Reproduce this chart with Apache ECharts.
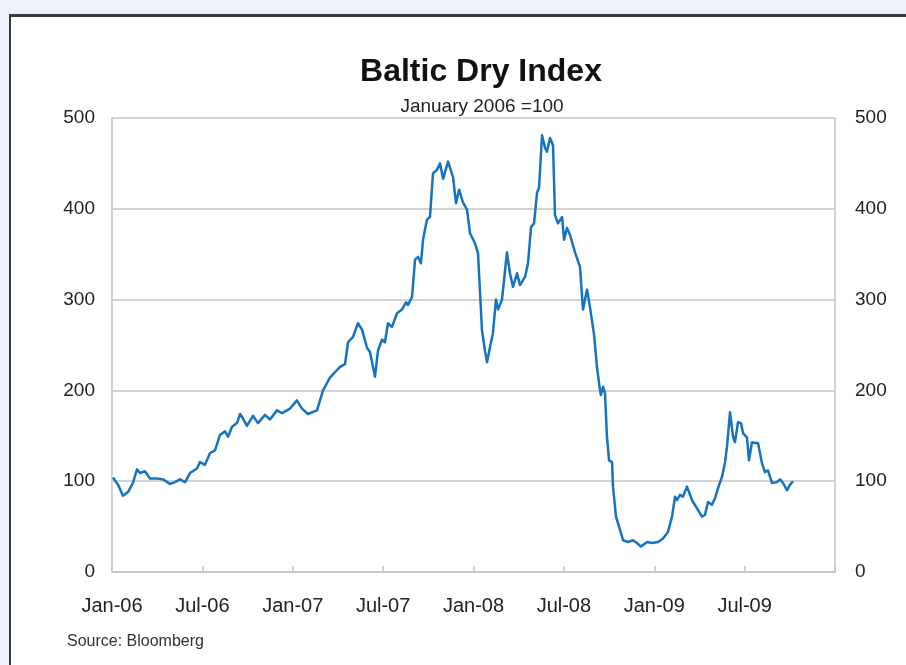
<!DOCTYPE html>
<html>
<head>
<meta charset="utf-8">
<script src="https://cdn.jsdelivr.net/npm/echarts@6/dist/echarts.min.js"></script>
<style>
  html, body { margin: 0; padding: 0; width: 906px; height: 665px; overflow: hidden; background: #edf1f9; }
  #frame { position: absolute; left: 9px; top: 14px; width: 905px; height: 660px; background: #ffffff;
           border-left: 2px solid #3a3a3a; border-top: 3px solid #3a3a3a; }
  #chart { position: absolute; left: 0; top: 0; width: 906px; height: 665px; }
</style>
</head>
<body>
<div id="frame"></div>
<div id="chart"></div>
<script>
// Time position: months since the start of January 2006
const months = [
  0.07, 0.40, 0.73, 1.06, 1.39, 1.66, 1.86, 2.19, 2.52, 2.99, 3.39, 3.85, 4.18, 4.51, 4.85,
  5.18, 5.64, 5.84, 6.17, 6.51, 6.84, 7.17, 7.50, 7.70, 7.97, 8.30, 8.50, 8.70, 8.96, 9.36,
  9.69, 10.16, 10.49, 10.95, 11.29, 11.82, 12.28, 12.61, 13.01, 13.61, 13.81, 14.01, 14.47, 14.80, 15.14,
  15.47, 15.67, 16.00, 16.33, 16.60, 16.93, 17.13, 17.46, 17.66, 17.93, 18.12, 18.32, 18.59, 18.92, 19.25,
  19.52, 19.65, 19.92, 20.12, 20.32, 20.51, 20.65, 20.91, 21.11, 21.31, 21.58, 21.78, 21.98, 22.31, 22.64,
  22.84, 23.04, 23.30, 23.57, 23.77, 24.10, 24.30, 24.56, 24.76, 24.90, 25.10, 25.29, 25.49, 25.63, 25.89,
  26.22, 26.42, 26.62, 26.89, 27.09, 27.42, 27.62, 27.82, 28.02, 28.22, 28.35, 28.55, 28.75, 28.88, 29.08,
  29.28, 29.41, 29.61, 29.88, 30.01, 30.21, 30.41, 30.74, 31.07, 31.27, 31.54, 31.73, 32.00, 32.20, 32.40,
  32.46, 32.60, 32.73, 32.86, 33.00, 33.20, 33.26, 33.46, 33.73, 33.93, 34.26, 34.59, 34.85, 35.12, 35.52,
  35.85, 36.25, 36.58, 36.91, 37.18, 37.38, 37.51, 37.71, 37.91, 38.17, 38.51, 38.84, 39.17, 39.37, 39.57,
  39.83, 40.03, 40.23, 40.50, 40.70, 40.83, 41.03, 41.23, 41.36, 41.56, 41.76, 41.89, 42.16, 42.29, 42.49,
  42.69, 42.89, 43.15, 43.35, 43.55, 43.82, 44.15, 44.35, 44.55, 44.81, 45.01, 45.21
];
// Baltic Dry Index, January 2006 = 100
const bdi = [
  104, 96, 84, 88, 98, 113, 109, 111, 103, 103, 102, 97, 99, 102, 99,
  109, 114, 121, 118, 131, 134, 151, 155, 149, 160, 164, 174, 169, 161, 172,
  164, 173, 168, 178, 175, 180, 189, 180, 174, 178, 189, 200, 214, 220, 226,
  229, 253, 259, 274, 267, 247, 242, 215, 244, 256, 253, 274, 270, 285, 289,
  297, 294, 303, 344, 347, 340, 366, 388, 391, 439, 443, 450, 433, 452, 435,
  406, 421, 407, 399, 373, 362, 351, 267, 244, 231, 248, 263, 300, 289, 300,
  352, 329, 314, 329, 316, 325, 340, 380, 384, 418, 423, 481, 467, 463, 478,
  470, 393, 384, 391, 366, 379, 371, 352, 336, 289, 311, 292, 262, 225, 200,
  195, 204, 197, 149, 123, 121, 94, 61, 46, 35, 33, 35, 32, 28, 33,
  32, 33, 37, 44, 61, 83, 79, 85, 83, 94, 79, 70, 61, 63, 77,
  74, 81, 92, 105, 121, 138, 176, 149, 143, 165, 164, 153, 148, 123, 143,
  142, 142, 120, 110, 112, 98, 99, 102, 98, 90, 96, 100
];
const xTickLabels = ['Jan-06', 'Jul-06', 'Jan-07', 'Jul-07', 'Jan-08', 'Jul-08', 'Jan-09', 'Jul-09', ''];
const yTicks = [0, 100, 200, 300, 400, 500];

const chart = echarts.init(document.getElementById('chart'), null, { renderer: 'canvas' });
const FONT = "'Liberation Sans', Arial, sans-serif";
const gray = '#c4c4c4';
const yAxisBase = {
  type: 'value', min: yTicks[0], max: yTicks[yTicks.length - 1], interval: 100,
  axisTick: { show: false },
  axisLine: { show: true, lineStyle: { color: gray, width: 1.5 } },
  axisLabel: { color: '#222', fontSize: 19, fontFamily: FONT }
};
chart.setOption({
  backgroundColor: 'transparent',
  animation: false,
  title: [
    { text: 'Baltic Dry Index', left: 476, top: 51, textAlign: 'center',
      textStyle: { fontSize: 32, fontWeight: 'bold', color: '#111', fontFamily: FONT } },
    { text: 'January 2006 =100', left: 477, top: 92, textAlign: 'center',
      textStyle: { fontSize: 19, fontWeight: 'normal', color: '#222', fontFamily: FONT } },
    { text: 'Source: Bloomberg', left: 62, top: 629,
      textStyle: { fontSize: 16, fontWeight: 'normal', color: '#333', fontFamily: FONT } }
  ],
  grid: { left: 112, right: 71, top: 118, bottom: 93, containLabel: false },
  xAxis: {
    type: 'value', min: 0, max: 48, interval: 6,
    splitLine: { show: false },
    axisLine: { show: true, onZero: false, lineStyle: { color: gray, width: 1.5 } },
    axisTick: { show: true, inside: true, length: 6, lineStyle: { color: gray, width: 1.5 } },
    axisLabel: { color: '#222', fontSize: 20, fontFamily: FONT, margin: 24,
      showMinLabel: true, showMaxLabel: true,
      formatter: v => xTickLabels[Math.round(v / 6)] || '' }
  },
  yAxis: [
    Object.assign({}, yAxisBase, {
      position: 'left',
      splitLine: { show: true, lineStyle: { color: gray, width: 1.5 } },
      axisLabel: Object.assign({}, yAxisBase.axisLabel, { margin: 17 })
    }),
    Object.assign({}, yAxisBase, {
      position: 'right',
      splitLine: { show: false },
      axisLabel: Object.assign({}, yAxisBase.axisLabel, { margin: 20 })
    })
  ],
  series: [{
    type: 'line',
    data: months.map((m, i) => [m, bdi[i]]),
    showSymbol: false,
    symbol: 'none',
    lineStyle: { color: '#1673be', width: 2.5, join: 'round' },
    smooth: false
  }]
});
</script>
</body>
</html>
